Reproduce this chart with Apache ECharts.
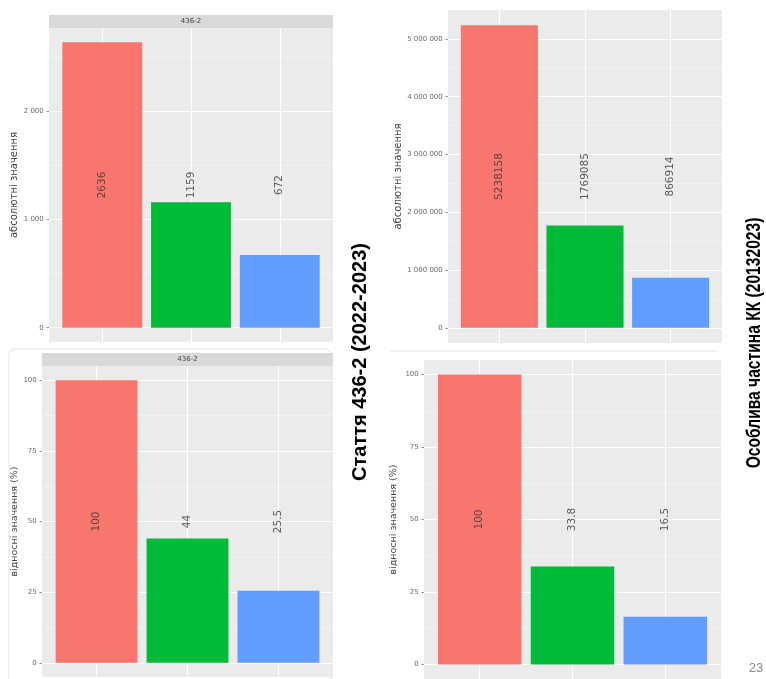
<!DOCTYPE html>
<html><head><meta charset="utf-8">
<script src="https://cdn.jsdelivr.net/npm/echarts@6/dist/echarts.min.js"></script>
<style>html,body{margin:0;padding:0;background:#fff}#c{width:766px;height:679px}</style>
</head><body><div id="c"></div>
<script>
// ---- data ----
const groupPos = [1, 2, 3];
const barColors = ['#F8766D', '#00BA38', '#619CFF'];
const abs436 = [2636, 1159, 672];
const absKK = [5238158, 1769085, 866914];
const rel436 = [100, 44, 25.5];
const relKK = [100, 33.8, 16.5];
const ticksAbs436 = [0, 1000, 2000];
const minorAbs436 = [500, 1500, 2500];
const ticksAbsKK = [0, 1000000, 2000000, 3000000, 4000000, 5000000];
const minorAbsKK = [500000, 1500000, 2500000, 3500000, 4500000];
const ticksRel = [0, 25, 50, 75, 100];
const minorRel = [12.5, 37.5, 62.5, 87.5];
const stripLabel = '436-2';
const yNameAbs = 'абсолютні значення';
const yNameRel = 'відносні значення (%)';
const title436 = 'Стаття 436-2 (2022-2023)';
const titleKK = 'Особлива частина КК (20132023)';
const pageNo = '23';

// ---- panels (layout) ----
const panels = [
  {vals: abs436, ticks: ticksAbs436, minor: minorAbs436, name: yNameAbs, grid: {left: 49, top: 28, width: 284, height: 314}, nameGap: 25, nameSize: 10},
  {vals: absKK, ticks: ticksAbsKK, minor: minorAbsKK, name: yNameAbs, grid: {left: 448, top: 10, width: 274, height: 333}, nameGap: 41, nameSize: 10},
  {vals: rel436, ticks: ticksRel, minor: minorRel, name: yNameRel, grid: {left: 42, top: 366, width: 291, height: 311}, nameGap: 16.5, nameSize: 9.5},
  {vals: relKK, ticks: ticksRel, minor: minorRel, name: yNameRel, grid: {left: 424, top: 360, width: 297, height: 332}, nameGap: 25.5, nameSize: 9.5}
];

const fmtTick = v => String(v).replace(/\B(?=(\d{3})+(?!\d))/g, ' ');
const FONT = 'DejaVu Sans, sans-serif';

const grid = [], xAxis = [], yAxis = [], series = [];
panels.forEach((p, i) => {
  const mx = Math.max(...p.vals);
  const lo = -0.05 * mx, hi = 1.05 * mx;
  grid.push(Object.assign({show: true, backgroundColor: '#EBEBEB', borderWidth: 0}, p.grid));
  xAxis.push({
    gridIndex: i, type: 'value', min: 0.4, max: 3.6,
    axisLine: {show: false}, axisLabel: {show: false},
    axisTick: {show: false, customValues: groupPos},
    splitLine: {show: true, lineStyle: {color: '#FFFFFF', width: 1.1}}
  });
  const majorIdx = yAxis.length;
  yAxis.push({
    gridIndex: i, type: 'value', min: lo, max: hi, position: 'left',
    axisLine: {show: false},
    axisTick: {show: true, length: 2.5, customValues: p.ticks, lineStyle: {color: '#777', width: 0.8}},
    axisLabel: {customValues: p.ticks, formatter: v => fmtTick(v) + ' ', fontSize: 7, color: '#6a6a6a', margin: 3, fontFamily: FONT},
    splitLine: {show: true, lineStyle: {color: '#FFFFFF', width: 1.1}},
    name: p.name, nameLocation: 'middle', nameGap: p.nameGap,
    nameTextStyle: {fontSize: p.nameSize, color: '#444', fontFamily: FONT}
  });
  const minorIdx = yAxis.length;
  yAxis.push({
    gridIndex: i, type: 'value', min: lo, max: hi, position: 'left',
    axisLine: {show: false}, axisLabel: {show: false},
    axisTick: {show: false, customValues: p.minor},
    splitLine: {show: true, lineStyle: {color: '#F7F7F7', width: 0.6}}
  });
  series.push({
    type: 'bar', xAxisIndex: i, yAxisIndex: majorIdx, barWidth: '90%', silent: true,
    data: p.vals.map((v, j) => ({value: [groupPos[j], v], itemStyle: {color: barColors[j]}}))
  });
  series.push({
    type: 'scatter', xAxisIndex: i, yAxisIndex: majorIdx, symbolSize: 1, silent: true, z: 5,
    itemStyle: {color: 'rgba(0,0,0,0)'},
    data: p.vals.map((v, j) => [groupPos[j], mx / 2]),
    label: {show: true, position: 'inside', rotate: 90, fontSize: 10.5, color: '#333', fontFamily: FONT,
      formatter: prm => String(p.vals[prm.dataIndex])}
  });
});

const graphic = [
  {type: 'rect', shape: {x: 9, y: 349, width: 322, height: 340, r: 6}, style: {fill: 'none', stroke: '#E2E2E2', lineWidth: 1}, z: -10},
  {type: 'line', shape: {x1: 390, y1: 351, x2: 717, y2: 351}, style: {stroke: '#E2E2E2', lineWidth: 1}, z: -10},
  {type: 'rect', shape: {x: 49, y: 15, width: 284, height: 13}, style: {fill: '#D9D9D9'}},
  {type: 'text', x: 191, y: 21.5, style: {text: stripLabel, fontSize: 7, fill: '#444', align: 'center', verticalAlign: 'middle', fontFamily: FONT}},
  {type: 'rect', shape: {x: 42, y: 353, width: 291, height: 13}, style: {fill: '#D9D9D9'}},
  {type: 'text', x: 187.5, y: 359.5, style: {text: stripLabel, fontSize: 7, fill: '#444', align: 'center', verticalAlign: 'middle', fontFamily: FONT}},
  {type: 'text', x: 360, y: 362, rotation: Math.PI / 2, style: {text: title436, fontSize: 20, fontWeight: 'bold', fill: '#000', align: 'center', verticalAlign: 'middle', fontFamily: 'Liberation Sans, Arial, sans-serif'}},
  {type: 'text', x: 754, y: 343, rotation: Math.PI / 2, scaleX: 0.78, style: {text: titleKK, fontSize: 20, fontWeight: 'bold', fill: '#000', align: 'center', verticalAlign: 'middle', fontFamily: 'Liberation Sans, Arial, sans-serif'}},
  {type: 'text', x: 756, y: 668, style: {text: pageNo, fontSize: 13, fill: '#8a8a8a', align: 'center', verticalAlign: 'middle', fontFamily: 'Liberation Sans, sans-serif'}}
];

const chart = echarts.init(document.getElementById('c'), null, {renderer: 'canvas'});
chart.setOption({animation: false, backgroundColor: '#FFFFFF', grid, xAxis, yAxis, series, graphic});
</script>
</body></html>
